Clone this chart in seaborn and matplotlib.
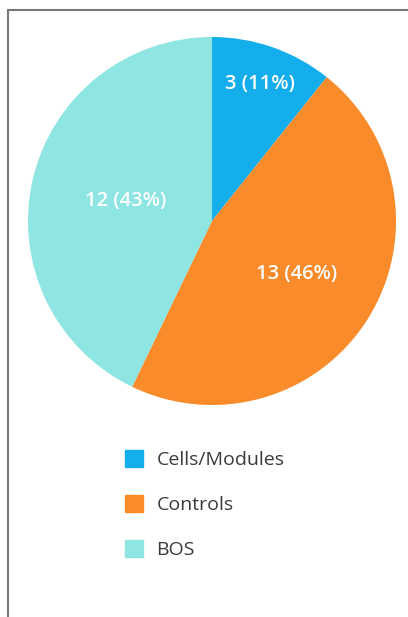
import numpy as np
import matplotlib
matplotlib.use("Agg")
import matplotlib.pyplot as plt
import matplotlib.patches as mpatches
import seaborn as sns

# Data
categories = ['Cells/Modules', 'Controls', 'BOS']
counts = [3, 13, 12]
colors = ['#14aeed', '#f98b2b', '#8ee5e2']
label_dist = [0.79, 0.54, 0.48]

sns.set_style('white')
plt.rcParams['font.family'] = ['Open Sans', 'DejaVu Sans']

fig = plt.figure(figsize=(4.08, 6.17), dpi=100)

# Pie axes (square in pixels)
ax = fig.add_axes([28 / 408, 212 / 617, 368 / 408, 368 / 617])
wedges, _ = ax.pie(counts, colors=colors, startangle=90, counterclock=False,
                   radius=1, wedgeprops=dict(linewidth=0))
ax.set_xlim(-1, 1)
ax.set_ylim(-1, 1)
ax.set_aspect('equal')
ax.axis('off')

total = sum(counts)
for w, n, d in zip(wedges, counts, label_dist):
    ang = np.deg2rad((w.theta1 + w.theta2) / 2)
    ax.text(d * np.cos(ang), d * np.sin(ang), f'{n} ({round(100 * n / total)}%)',
            color='white', fontsize=14.5, fontweight='semibold', ha='center', va='center')

# Legend
handles = [mpatches.Patch(color=c, label=l) for c, l in zip(colors, categories)]
fig.legend(handles=handles, loc='upper left', bbox_to_anchor=(107 / 408, 1 - 433 / 617),
           frameon=False, fontsize=14, labelcolor='#3a3a3a', handlelength=0.93,
           handleheight=0.93, handletextpad=0.72, labelspacing=1.33)

# Frame lines (left and top)
fig.add_artist(plt.Line2D([7.5 / 408, 7.5 / 408], [0, 1 - 10 / 617], transform=fig.transFigure,
                          color='#777777', linewidth=1.5))
fig.add_artist(plt.Line2D([7.5 / 408, 1], [1 - 10 / 617, 1 - 10 / 617], transform=fig.transFigure,
                          color='#777777', linewidth=1.5))

fig.savefig('out.png', dpi=100)
